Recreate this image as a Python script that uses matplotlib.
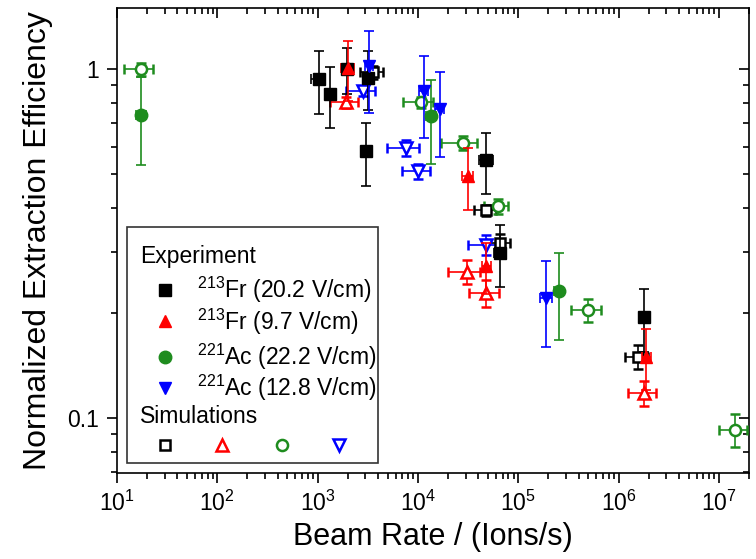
import numpy as np
import matplotlib
matplotlib.use("Agg")
import matplotlib.pyplot as plt
from matplotlib.lines import Line2D
from matplotlib.patches import Rectangle
from matplotlib.ticker import FixedLocator, LogLocator, NullFormatter

plt.rcParams["font.family"] = ["Liberation Sans", "DejaVu Sans"]
plt.rcParams["mathtext.default"] = "regular"

# Experiment: 213Fr (20.2 V/cm)
fr20_x = [1028, 1336, 1950, 3170, 3055, 48200, 65300, 1.79e6]
fr20_y = [0.936, 0.849, 1.0, 0.946, 0.582, 0.549, 0.297, 0.195]
fr20_xerr = [160, 100, 150, 300, 300, 8000, 8000, 2e5]
fr20_yerr = [0.19, 0.17, 0.15, 0.18, 0.12, 0.11, 0.06, 0.04]

# Experiment: 213Fr (9.7 V/cm)
fr97_x = [2000, 31550, 48200, 1.90e6]
fr97_y = [1.01, 0.494, 0.272, 0.150]
fr97_xerr = [300, 4000, 5000, 2e5]
fr97_yerr = [0.2, 0.1, 0.045, 0.03]

# Experiment: 221Ac (22.2 V/cm)
ac22_x = [17.5, 13620, 255000]
ac22_y = [0.742, 0.734, 0.232]
ac22_xerr = [2, 1500, 25000]
ac22_yerr = [0.21, 0.2, 0.065]

# Experiment: 221Ac (12.8 V/cm)
ac12_x = [3246, 11400, 16480, 191000]
ac12_y = [1.02, 0.866, 0.771, 0.221]
ac12_xerr = [300, 1200, 1600, 25000]
ac12_yerr = [0.27, 0.23, 0.21, 0.061]

# Simulations
sim_fr20_x = [3556, 48200, 65300, 1.57e6]
sim_fr20_y = [0.98, 0.394, 0.318, 0.150]
sim_fr20_xerr = [900, 12000, 18000, 4e5]
sim_fr20_yerr = [0.04, 0.015, 0.02, 0.012]

sim_fr97_x = [1927, 30800, 48200, 1.79e6]
sim_fr97_y = [0.805, 0.263, 0.228, 0.118]
sim_fr97_xerr = [600, 11000, 16000, 5.5e5]
sim_fr97_yerr = [0.03, 0.02, 0.02, 0.01]

sim_ac22_x = [17.2, 10640, 28100, 62800, 498000, 1.45e7]
sim_ac22_y = [1.0, 0.805, 0.616, 0.405, 0.204, 0.0924]
sim_ac22_xerr = [5.5, 3500, 11000, 17000, 165000, 4.5e6]
sim_ac22_yerr = [0.045, 0.03, 0.03, 0.02, 0.015, 0.01]

sim_ac12_x = [2826, 7650, 10000, 47400]
sim_ac12_y = [0.866, 0.596, 0.510, 0.314]
sim_ac12_xerr = [900, 2700, 3100, 16000]
sim_ac12_yerr = [0.03, 0.03, 0.025, 0.02]

BLACK, RED, GREEN, BLUE = "black", "#ff0000", "#1e8c1e", "#0000ff"

exp_series = [
    (fr20_x, fr20_y, fr20_xerr, fr20_yerr, BLACK, "s", 8, r"$^{213}$Fr (20.2 V/cm)"),
    (fr97_x, fr97_y, fr97_xerr, fr97_yerr, RED, "^", 9, r"$^{213}$Fr (9.7 V/cm)"),
    (ac22_x, ac22_y, ac22_xerr, ac22_yerr, GREEN, "o", 9, r"$^{221}$Ac (22.2 V/cm)"),
    (ac12_x, ac12_y, ac12_xerr, ac12_yerr, BLUE, "v", 9, r"$^{221}$Ac (12.8 V/cm)"),
]
sim_series = [
    (sim_fr20_x, sim_fr20_y, sim_fr20_xerr, sim_fr20_yerr, BLACK, "s", 7),
    (sim_fr97_x, sim_fr97_y, sim_fr97_xerr, sim_fr97_yerr, RED, "^", 8.5),
    (sim_ac22_x, sim_ac22_y, sim_ac22_xerr, sim_ac22_yerr, GREEN, "o", 8),
    (sim_ac12_x, sim_ac12_y, sim_ac12_xerr, sim_ac12_yerr, BLUE, "v", 8.5),
]

fig = plt.figure(figsize=(7.56, 5.59), dpi=100)
ax = fig.add_axes([117 / 756, 1 - 473 / 559, 632 / 756, 465 / 559])

for x, y, xe, ye, c, m, ms in sim_series:
    ax.errorbar(x, y, xerr=xe, yerr=ye, fmt=m, ms=ms, mfc="white", mec=c,
                mew=1.8, ecolor=c, elinewidth=1.2, capsize=3.5, capthick=1.2,
                zorder=3)
for x, y, xe, ye, c, m, ms, lab in exp_series:
    ax.errorbar(x, y, xerr=xe, yerr=ye, fmt=m, ms=ms, mfc=c, mec=c,
                ecolor=c, elinewidth=1.2, capsize=3.5, capthick=1.2, zorder=4)

ax.set_xscale("log")
ax.set_yscale("log")
ax.set_xlim(10, 2.0e7)
ax.set_ylim(0.0695, 1.5)

ax.yaxis.set_major_locator(FixedLocator([0.1, 1]))
ax.set_yticklabels(["0.1", "1"])
ax.yaxis.set_minor_locator(LogLocator(base=10, subs=np.arange(2, 10)))
ax.yaxis.set_minor_formatter(NullFormatter())
ax.xaxis.set_major_locator(LogLocator(base=10, numticks=10))
ax.xaxis.set_minor_locator(LogLocator(base=10, subs=np.arange(2, 10), numticks=20))
ax.xaxis.set_minor_formatter(NullFormatter())

ax.tick_params(which="both", direction="out", labelsize=16.5, width=1.2)
ax.tick_params(which="major", length=7, pad=6)
ax.tick_params(which="minor", length=4)
ax.tick_params(which="both", top=True, right=True)
for side in ["top", "right", "bottom", "left"]:
    ax.spines[side].set_linewidth(1.2)
# top/right ticks point inward
for t in ax.xaxis.get_major_ticks() + ax.xaxis.get_minor_ticks():
    t.tick2line.set_marker(3)
for t in ax.yaxis.get_major_ticks() + ax.yaxis.get_minor_ticks():
    t.tick2line.set_marker(0)

ax.set_xlabel("Beam Rate / (Ions/s)", fontsize=22, labelpad=4)
ax.set_ylabel("Normalized Extraction Efficiency", fontsize=23, labelpad=10)

# hand-built legend box
tr = ax.transAxes
ax.add_patch(Rectangle((0.0155, 0.022), 0.398, 0.508, transform=tr,
                       fill=False, ec="#333333", lw=1.2, zorder=5))
ax.text(0.036, 0.465, "Experiment", transform=tr, fontsize=16.5, va="center", zorder=6)
mx, tx = 0.076, 0.126
ys = [0.394, 0.326, 0.250, 0.182]
for (x, y, xe, ye, c, m, ms, lab), yy in zip(exp_series, ys):
    ax.add_line(Line2D([mx], [yy], transform=tr, marker=m, ms=ms, color=c,
                       ls="none", zorder=6))
    ax.text(tx, yy, lab, transform=tr, fontsize=16.5, va="center", zorder=6)
ax.text(0.036, 0.121, "Simulations", transform=tr, fontsize=16.5, va="center", zorder=6)
for (x, y, xe, ye, c, m, ms), xx in zip(sim_series, [0.076, 0.166, 0.261, 0.352]):
    ax.add_line(Line2D([xx], [0.061], transform=tr, marker=m, ms=ms,
                       mfc="white", mec=c, mew=1.8, ls="none", zorder=6))

fig.savefig("out.png", dpi=100)
